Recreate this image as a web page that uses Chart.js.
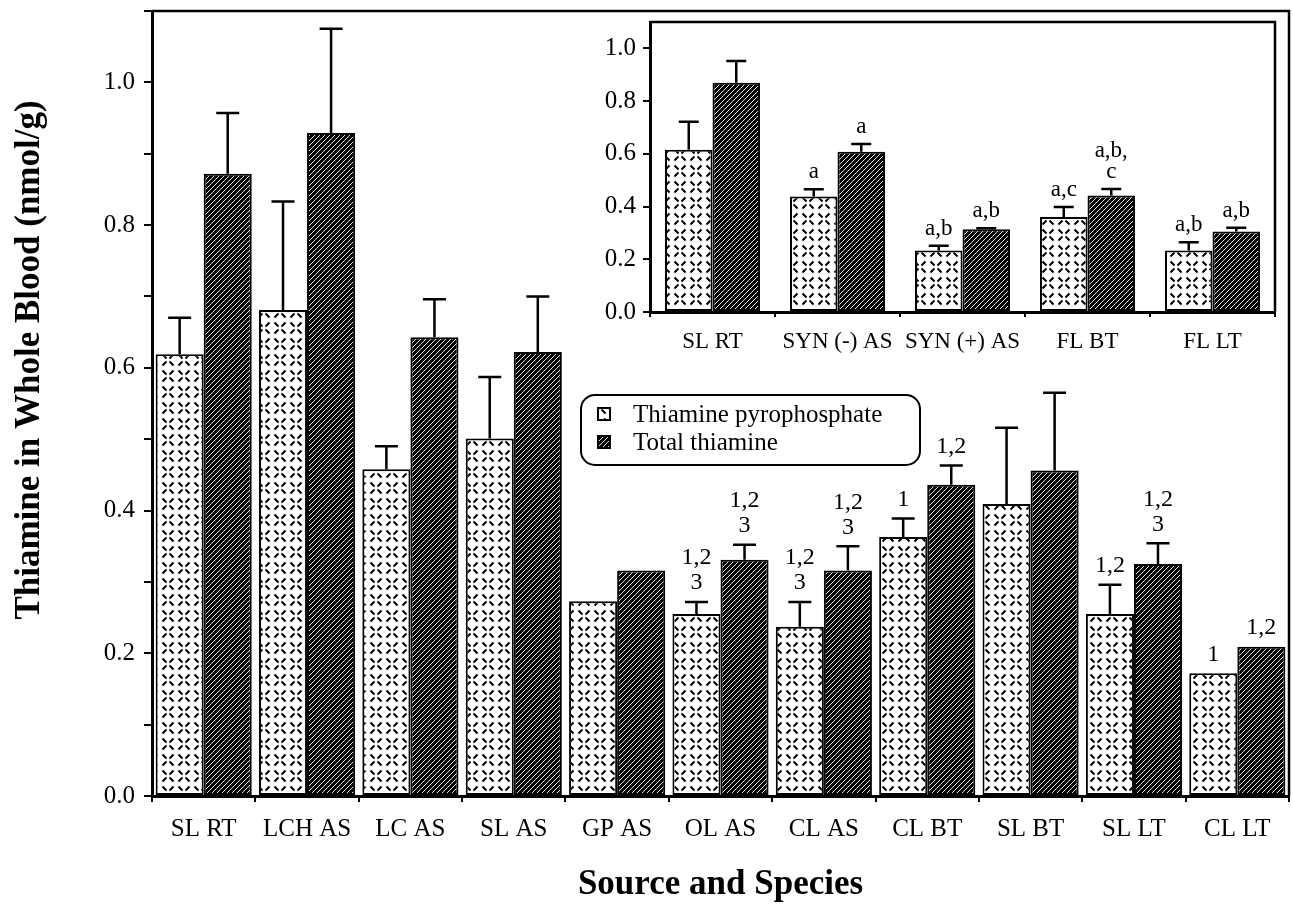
<!DOCTYPE html>
<html>
<head>
<meta charset="utf-8">
<script src="https://cdn.jsdelivr.net/npm/chart.js@4.4.0/dist/chart.umd.min.js"></script>
<style>
  html, body { margin: 0; padding: 0; background: #fff; }
  #wrap { position: relative; width: 1293px; height: 908px; }
  #main { position: absolute; left: 0; top: 0; }
  #inset { position: absolute; left: 560px; top: 19px; }
</style>
</head>
<body>
<div id="wrap">
  <canvas id="main" width="1293" height="908"></canvas>
  <canvas id="inset" width="725" height="338"></canvas>
</div>
<script>
// main chart data
const categories = ['SL RT', 'LCH AS', 'LC AS', 'SL AS', 'GP AS', 'OL AS', 'CL AS', 'CL BT', 'SL BT', 'SL LT', 'CL LT'];
const pyrophosphate = [0.619, 0.681, 0.458, 0.501, 0.273, 0.255, 0.237, 0.363, 0.409, 0.255, 0.172];
const pyrophosphateErr = [0.051, 0.152, 0.032, 0.086, 0, 0.017, 0.035, 0.026, 0.107, 0.041, 0];
const totalThiamine = [0.872, 0.929, 0.643, 0.622, 0.316, 0.331, 0.316, 0.436, 0.456, 0.325, 0.209];
const totalErr = [0.085, 0.146, 0.053, 0.078, 0, 0.021, 0.034, 0.027, 0.109, 0.029, 0];
const pyroMarks = ['', '', '', '', '', '1,2\n3', '1,2\n3', '1', '', '1,2', '1'];
const totalMarks = ['', '', '', '', '', '1,2\n3', '1,2\n3', '1,2', '', '1,2\n3', '1,2'];

// inset data
const insetCategories = ['SL RT', 'SYN (-) AS', 'SYN (+) AS', 'FL BT', 'FL LT'];
const insetPyro = [0.615, 0.438, 0.233, 0.360, 0.233];
const insetPyroErr = [0.107, 0.028, 0.018, 0.038, 0.032];
const insetTotal = [0.870, 0.608, 0.314, 0.442, 0.305];
const insetTotalErr = [0.082, 0.029, 0.004, 0.025, 0.015];
const insetPyroMarks = ['', 'a', 'a,b', 'a,c', 'a,b'];
const insetTotalMarks = ['', 'a', 'a,b', 'a,b,\nc', 'a,b'];

const FONT = '"Liberation Serif", "Times New Roman", serif';

// hatch fills
function lightPattern() {
  const c = document.createElement('canvas');
  c.width = 16; c.height = 16;
  const g = c.getContext('2d');
  g.fillStyle = '#fff';
  g.fillRect(0, 0, 16, 16);
  g.strokeStyle = '#000';
  g.lineWidth = 2;
  g.beginPath();
  g.moveTo(2.5, 2.5); g.lineTo(6.5, 6.5);
  g.moveTo(9.5, 9.5); g.lineTo(13.5, 13.5);
  g.moveTo(13.5, 2.5); g.lineTo(9.5, 6.5);
  g.moveTo(6.5, 9.5); g.lineTo(2.5, 13.5);
  g.stroke();
  return g.createPattern(c, 'repeat');
}
function darkPattern() {
  const c = document.createElement('canvas');
  c.width = 5; c.height = 5;
  const g = c.getContext('2d');
  g.fillStyle = '#000';
  g.fillRect(0, 0, 5, 5);
  g.strokeStyle = '#fff';
  g.lineWidth = 0.9;
  g.beginPath();
  g.moveTo(-1, 6); g.lineTo(6, -1);
  g.stroke();
  return g.createPattern(c, 'repeat');
}
const lightFill = lightPattern();
const darkFill = darkPattern();

// error bars (upper only) and the significance marks above them
const errorBars = {
  id: 'errorBars',
  afterDatasetsDraw(chart, args, opts) {
    const ctx = chart.ctx;
    const y = chart.scales.y;
    ctx.save();
    chart.data.datasets.forEach((ds, i) => {
      const meta = chart.getDatasetMeta(i);
      meta.data.forEach((bar, j) => {
        const top = y.getPixelForValue(ds.data[j] + ds.errors[j]);
        if (ds.errors[j] > 0) {
          ctx.strokeStyle = '#000';
          ctx.lineWidth = opts.lineWidth;
          ctx.beginPath();
          ctx.moveTo(bar.x, bar.y);
          ctx.lineTo(bar.x, top);
          ctx.moveTo(bar.x - opts.cap / 2, top);
          ctx.lineTo(bar.x + opts.cap / 2, top);
          ctx.stroke();
        }
        const mark = ds.marks[j];
        if (mark) {
          const lines = mark.split('\n');
          ctx.fillStyle = '#000';
          ctx.font = opts.size + 'px ' + FONT;
          ctx.textAlign = 'center';
          ctx.textBaseline = 'middle';
          lines.forEach((ln, k) => {
            const off = opts.gap + (lines.length - 1 - k) * opts.lineGap;
            ctx.fillText(ln, bar.x, top - off);
          });
        }
      });
    });
    ctx.restore();
  }
};

// top and right edges of the plot box
const frame = {
  id: 'frame',
  afterDraw(chart, args, opts) {
    const a = chart.chartArea;
    const ctx = chart.ctx;
    ctx.save();
    ctx.strokeStyle = '#000';
    ctx.lineWidth = opts.width;
    ctx.beginPath();
    ctx.moveTo(a.left, a.top);
    ctx.lineTo(a.right, a.top);
    ctx.lineTo(a.right, a.bottom);
    ctx.stroke();
    ctx.restore();
  }
};

// boxed legend and rotated y title on the main chart
const mainExtras = {
  id: 'mainExtras',
  afterDraw(chart) {
    const ctx = chart.ctx;
    ctx.save();
    ctx.strokeStyle = '#000';
    ctx.lineWidth = 2;
    ctx.beginPath();
    ctx.roundRect(581, 395, 339, 70, 14);
    ctx.stroke();
    const items = [[lightFill, 'Thiamine pyrophosphate', 414], [darkFill, 'Total thiamine', 442]];
    items.forEach(([fill, text, cy]) => {
      ctx.fillStyle = fill;
      ctx.fillRect(598, cy - 6, 12, 12);
      ctx.lineWidth = 2;
      ctx.strokeRect(598, cy - 6, 12, 12);
      ctx.fillStyle = '#000';
      ctx.font = '25px ' + FONT;
      ctx.textAlign = 'left';
      ctx.textBaseline = 'middle';
      ctx.fillText(text, 633, cy + 1);
    });
    ctx.translate(30, 360);
    ctx.rotate(-Math.PI / 2);
    ctx.font = 'bold 35px ' + FONT;
    ctx.textAlign = 'center';
    ctx.textBaseline = 'middle';
    ctx.fillText('Thiamine in Whole Blood (nmol/g)', 0, 0);
    ctx.restore();
  }
};

function axisFont(size) { return { family: FONT, size: size }; }
function yLabel(v) {
  const n = Math.round(v * 10);
  return n % 2 === 0 && n <= 10 ? (n / 10).toFixed(1) : '';
}
function fitY(width) {
  return s => { s.width = width; s.paddingTop = 0; s.paddingBottom = 0; };
}
function fitX(height) {
  return s => { s.height = height; s.paddingLeft = 0; s.paddingRight = 0; };
}

new Chart(document.getElementById('main'), {
  type: 'bar',
  data: {
    labels: categories,
    datasets: [
      { label: 'Thiamine pyrophosphate', data: pyrophosphate, errors: pyrophosphateErr, marks: pyroMarks,
        backgroundColor: lightFill, borderColor: '#000', borderWidth: 2, borderSkipped: false },
      { label: 'Total thiamine', data: totalThiamine, errors: totalErr, marks: totalMarks,
        backgroundColor: darkFill, borderColor: '#000', borderWidth: 2, borderSkipped: false }
    ]
  },
  options: {
    responsive: false,
    animation: false,
    devicePixelRatio: 1,
    layout: { padding: { top: 11, right: 4, left: 0, bottom: 0 } },
    datasets: { bar: { categoryPercentage: 0.93, barPercentage: 1.0 } },
    plugins: {
      legend: { display: false },
      tooltip: { enabled: false },
      errorBars: { lineWidth: 2.5, cap: 23, size: 24, gap: 19, lineGap: 25 },
      frame: { width: 2.5 }
    },
    scales: {
      x: {
        grid: { display: true, drawOnChartArea: false, tickLength: 6, color: '#000', lineWidth: 2, offset: true },
        border: { display: true, color: '#000', width: 3 },
        ticks: { font: axisFont(25), color: '#000', padding: 12, maxRotation: 0, autoSkip: false },
        title: { display: true, text: 'Source and Species', color: '#000',
                 font: { family: FONT, size: 35, weight: 'bold' }, padding: { top: 0, bottom: 2 } },
        afterFit: fitX(112)
      },
      y: {
        min: 0,
        max: 1.1,
        grid: { display: true, drawOnChartArea: false, tickLength: 8, color: '#000', lineWidth: 2 },
        border: { display: true, color: '#000', width: 3 },
        ticks: { stepSize: 0.1, callback: yLabel, font: axisFont(25), color: '#000', padding: 9 },
        afterFit: fitY(152)
      }
    }
  },
  plugins: [errorBars, frame, mainExtras]
});

new Chart(document.getElementById('inset'), {
  type: 'bar',
  data: {
    labels: insetCategories,
    datasets: [
      { label: 'Thiamine pyrophosphate', data: insetPyro, errors: insetPyroErr, marks: insetPyroMarks,
        backgroundColor: lightFill, borderColor: '#000', borderWidth: 2, borderSkipped: false },
      { label: 'Total thiamine', data: insetTotal, errors: insetTotalErr, marks: insetTotalMarks,
        backgroundColor: darkFill, borderColor: '#000', borderWidth: 2, borderSkipped: false }
    ]
  },
  options: {
    responsive: false,
    animation: false,
    devicePixelRatio: 1,
    layout: { padding: { top: 3, right: 10, left: 0, bottom: 0 } },
    datasets: { bar: { categoryPercentage: 0.76, barPercentage: 1.0 } },
    plugins: {
      legend: { display: false },
      tooltip: { enabled: false },
      errorBars: { lineWidth: 2.5, cap: 20, size: 23, gap: 17, lineGap: 21 },
      frame: { width: 2.5 }
    },
    scales: {
      x: {
        grid: { display: true, drawOnChartArea: false, tickLength: 5, color: '#000', lineWidth: 2, offset: true },
        border: { display: true, color: '#000', width: 3 },
        ticks: { font: axisFont(23), color: '#000', padding: 11, maxRotation: 0, autoSkip: false },
        afterFit: fitX(45)
      },
      y: {
        min: 0,
        max: 1.1,
        grid: { display: true, drawOnChartArea: false, tickLength: 7, color: '#000', lineWidth: 2 },
        border: { display: true, color: '#000', width: 3 },
        ticks: { stepSize: 0.1, callback: yLabel, font: axisFont(25), color: '#000', padding: 7 },
        afterFit: fitY(90)
      }
    }
  },
  plugins: [errorBars, frame]
});
</script>
</body>
</html>
